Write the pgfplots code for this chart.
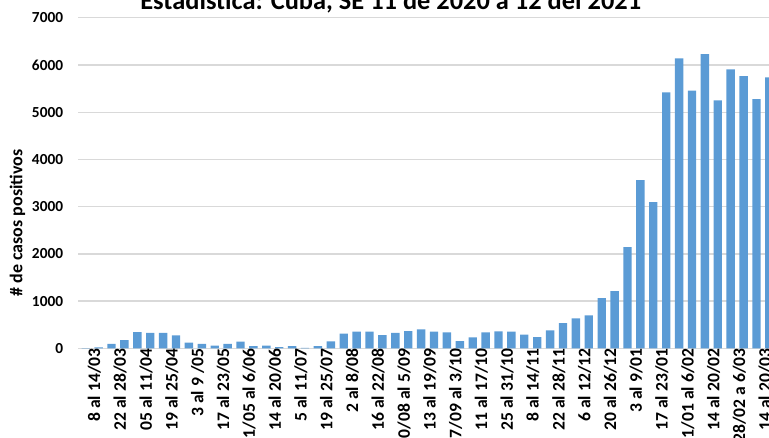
\documentclass[border=0pt]{standalone}
\usepackage{pgfplots}
\pgfplotsset{compat=1.18}
\usepackage{fontspec}
\setmainfont{Carlito}
\definecolor{barblue}{HTML}{5B9BD5}
\definecolor{gridgray}{HTML}{D9D9D9}
\begin{document}
\begin{tikzpicture}
\begin{axis}[
  at={(58.5pt,66.5pt)}, anchor=south west,
  scale only axis, width=518.25pt, height=247.95pt,
  xmin=-0.6, xmax=52.97, ymin=0, ymax=7000,
  ytick={0,1000,...,7000},
  xtick={0,2,...,52},
  xticklabels={8 al 14/03,22 al 28/03,05 al 11/04,19 al 25/04,3 al 9 /05,17 al 23/05,31/05 al 6/06,14 al 20/06,5 al 11/07,19 al 25/07,2 al 8/08,16 al 22/08,30/08 al 5/09,13 al 19/09,27/09 al 3/10,11 al 17/10,25 al 31/10,8 al 14/11,22 al 28/11,6 al 12/12,20 al 26/12,3 al 9/01,17 al 23/01,31/01 al 6/02,14 al 20/02,28/02 a 6/03,14 al 20/03},
  xticklabel style={rotate=90, anchor=east, font=\fontsize{13.2}{15}\selectfont\bfseries, inner sep=0pt, yshift=-6.5pt},
  yticklabel style={font=\fontsize{11.5}{13}\selectfont\bfseries, inner sep=0pt, xshift=-11pt},
  /pgf/number format/assume math mode=true,
  /pgf/number format/1000 sep={},
  axis line style={draw=none},
  major tick style={draw=none},
  ymajorgrids, major grid style={gridgray, line width=1pt},
  bar width=0.65,
]
\addplot[ybar, fill=barblue, draw=none] coordinates {
(0,4) (1,21) (2,97) (3,176) (4,345) (5,330) (6,330) (7,275) (8,119) (9,97)
(10,55) (11,97) (12,140) (13,49) (14,55) (15,28) (16,49) (17,10) (18,49) (19,148)
(20,309) (21,352) (22,352) (23,282) (24,330) (25,366) (26,402) (27,352) (28,339) (29,155)
(30,233) (31,339) (32,360) (33,352) (34,289) (35,240) (36,381) (37,536) (38,635) (39,699)
(40,1065) (41,1213) (42,2145) (43,3563) (44,3097) (45,5420) (46,6140) (47,5455) (48,6231) (49,5251)
(50,5907) (51,5765) (52,5278) (53,5738)
};
\end{axis}
\node[anchor=base, font=\fontsize{19.8}{22}\selectfont\bfseries, inner sep=0pt] at (293pt,321pt) {Estadística: Cuba, SE 11 de 2020 a 12 del 2021};
\node[rotate=90, font=\fontsize{13.5}{15}\selectfont\bfseries, inner sep=0pt] at (13.1pt,160.5pt) {\# de casos positivos};
\pgfresetboundingbox
\useasboundingbox (0,0) rectangle (576.75pt,327.75pt);
\end{tikzpicture}
\end{document}
